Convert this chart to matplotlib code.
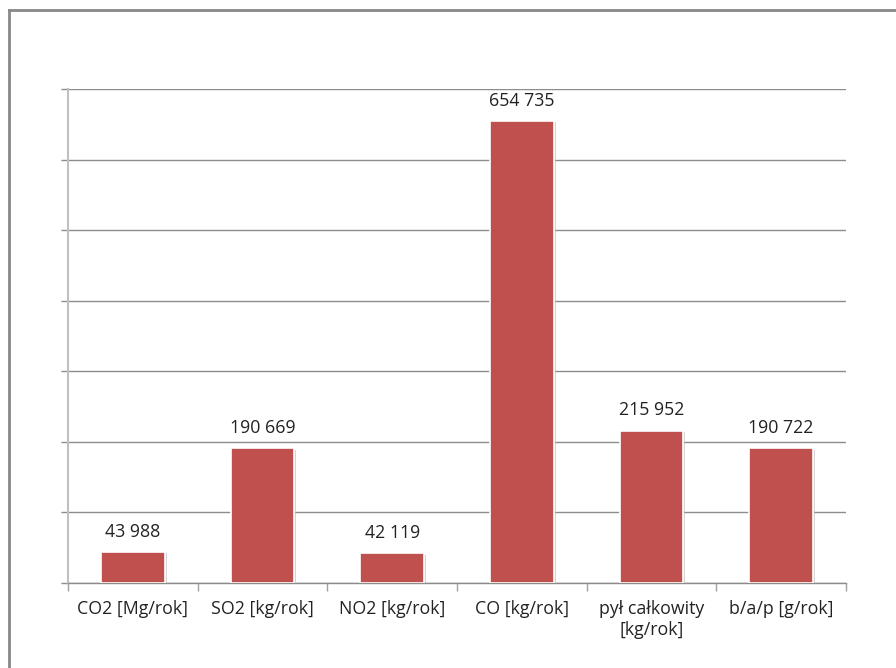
import matplotlib.pyplot as plt
from matplotlib.lines import Line2D
import matplotlib.patheffects as pe

categories = ["CO2 [Mg/rok]", "SO2 [kg/rok]", "NO2 [kg/rok]", "CO [kg/rok]",
              "pył całkowity\n[kg/rok]", "b/a/p [g/rok]"]
values = [43988, 190669, 42119, 654735, 215952, 190722]
labels = ["43 988", "190 669", "42 119", "654 735", "215 952", "190 722"]

plt.rcParams['font.family'] = ['Open Sans', 'DejaVu Sans']

fig = plt.figure(figsize=(8.96, 6.68), dpi=100)
ax = fig.add_axes([68 / 896, 1 - 583 / 668, (846 - 68) / 896, (583 - 89) / 668])

x = list(range(len(categories)))
bars = ax.bar(x, values, width=0.49, color="#C0504D", edgecolor="white",
              linewidth=1.2, zorder=3)
for b in bars:
    b.set_path_effects([pe.SimplePatchShadow(offset=(1.5, -1), shadow_rgbFace="#bbbbbb", alpha=0.6),
                        pe.Normal()])

for xi, v, lab in zip(x, values, labels):
    ax.annotate(lab, (xi, v), xytext=(0, 8), textcoords="offset points",
                ha="center", va="bottom", fontsize=12.8, color="#222222")

ax.set_xlim(-0.5, len(categories) - 0.5)
ax.set_ylim(0, 700000)
ax.set_yticks(range(0, 700001, 100000))
ax.yaxis.grid(True, color="#8c8c8c", linewidth=1, zorder=0)
ax.set_yticklabels([])
ax.tick_params(axis="y", length=5, color="#8c8c8c", width=1)

# category separators below the axis
ax.set_xticks([i - 0.5 for i in range(len(categories) + 1)], minor=False)
ax.set_xticklabels([])
ax.tick_params(axis="x", length=6, color="#a0a0a0", width=1)
ax.set_xticks(x, minor=True)
ax.set_xticklabels(categories, minor=True, fontsize=12.8, color="#222222",
                   linespacing=1.25)
ax.tick_params(axis="x", which="minor", length=0, pad=12)

for side in ["top", "right"]:
    ax.spines[side].set_visible(False)
ax.spines["left"].set_color("#c0c0c0")
ax.spines["left"].set_linewidth(1.5)
ax.spines["bottom"].set_color("#8c8c8c")
ax.spines["bottom"].set_linewidth(1)

# outer chart frame
fig.add_artist(Line2D([9 / 896, 9 / 896], [0, 1 - 10 / 668], color="#888888", linewidth=2))
fig.add_artist(Line2D([9 / 896, 1], [1 - 10 / 668, 1 - 10 / 668], color="#888888", linewidth=2))

fig.savefig("out.png", dpi=100)
